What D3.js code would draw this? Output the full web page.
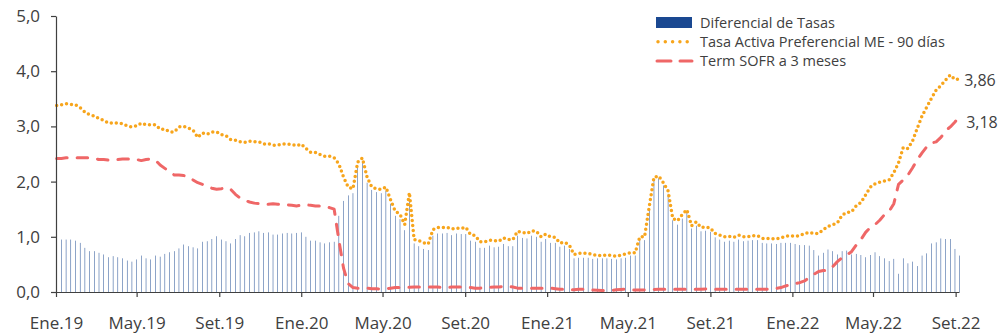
<!DOCTYPE html>
<html lang="es">
<head>
<meta charset="utf-8">
<title>Diferencial de Tasas</title>
<script src="https://cdn.jsdelivr.net/npm/d3@7"></script>
<style>
  html, body { margin: 0; padding: 0; background: #ffffff; }
  svg { display: block; }
  text { font-family: "Open Sans", "Noto Sans", sans-serif; fill: #404040; }
</style>
</head>
<body>
<svg id="chart" width="998" height="334"></svg>
<script>
// Weekly observations, starting Wednesday 2 Jan 2019
const startDate = "2019-01-02";

// Tasa Activa Preferencial ME - 90 días (%)
const tasaActiva = [
  3.38, 3.39, 3.41, 3.40, 3.39, 3.34, 3.26, 3.21, 3.19, 3.14, 3.11, 3.06, 3.06, 3.06, 3.05, 3.01,
  2.99, 3.01, 3.06, 3.03, 3.03, 3.03, 2.95, 2.95, 2.90, 2.90, 2.99, 3.00, 2.97, 2.93, 2.80, 2.88,
  2.86, 2.90, 2.90, 2.85, 2.83, 2.76, 2.75, 2.72, 2.71, 2.73, 2.72, 2.72, 2.68, 2.69, 2.66, 2.66,
  2.68, 2.68, 2.67, 2.65, 2.68, 2.60, 2.53, 2.53, 2.49, 2.46, 2.46, 2.43, 2.32, 2.08, 1.90, 1.87,
  2.35, 2.43, 2.08, 1.90, 1.87, 1.86, 1.90, 1.67, 1.46, 1.41, 1.22, 1.80, 0.95, 0.93, 0.89, 0.87,
  1.13, 1.17, 1.17, 1.17, 1.14, 1.16, 1.15, 1.17, 1.04, 1.02, 0.91, 0.91, 0.94, 0.93, 0.92, 0.98,
  0.95, 0.95, 1.10, 1.08, 1.06, 1.11, 1.10, 1.00, 1.05, 1.00, 0.99, 0.89, 0.90, 0.85, 0.68, 0.70,
  0.70, 0.70, 0.68, 0.66, 0.66, 0.67, 0.66, 0.65, 0.67, 0.69, 0.71, 0.71, 1.00, 1.00, 1.55, 2.08,
  2.10, 1.98, 1.83, 1.33, 1.29, 1.40, 1.49, 1.20, 1.27, 1.17, 1.18, 1.16, 1.06, 1.03, 1.00, 1.01,
  0.99, 1.03, 1.00, 1.00, 1.02, 1.02, 0.97, 0.97, 0.97, 0.96, 0.98, 1.01, 1.02, 1.01, 1.02, 1.06,
  1.08, 1.06, 1.06, 1.13, 1.19, 1.22, 1.25, 1.39, 1.44, 1.45, 1.56, 1.62, 1.76, 1.90, 1.96, 1.99,
  2.01, 2.03, 2.16, 2.34, 2.62, 2.60, 2.74, 2.97, 3.19, 3.35, 3.51, 3.66, 3.74, 3.84, 3.93, 3.85,
  3.86
];

// Term SOFR a 3 meses (%)
const termSofr = [
  2.42, 2.42, 2.43, 2.43, 2.43, 2.43, 2.43, 2.43, 2.42, 2.40, 2.40, 2.39, 2.40, 2.40, 2.41, 2.41,
  2.40, 2.40, 2.38, 2.40, 2.41, 2.39, 2.30, 2.24, 2.18, 2.12, 2.12, 2.11, 2.09, 2.03, 1.98, 1.95,
  1.91, 1.88, 1.86, 1.87, 1.89, 1.86, 1.77, 1.70, 1.66, 1.63, 1.61, 1.60, 1.59, 1.59, 1.60, 1.59,
  1.58, 1.58, 1.57, 1.56, 1.57, 1.58, 1.57, 1.56, 1.56, 1.55, 1.53, 1.50, 0.94, 0.43, 0.15, 0.08,
  0.07, 0.07, 0.07, 0.06, 0.06, 0.05, 0.06, 0.07, 0.08, 0.08, 0.085, 0.085, 0.09, 0.09, 0.09, 0.09,
  0.09, 0.09, 0.08, 0.08, 0.09, 0.09, 0.09, 0.085, 0.08, 0.07, 0.07, 0.08, 0.085, 0.09, 0.09, 0.10,
  0.10, 0.09, 0.07, 0.07, 0.07, 0.07, 0.07, 0.07, 0.07, 0.07, 0.06, 0.05, 0.05, 0.04, 0.04, 0.05,
  0.05, 0.04, 0.035, 0.03, 0.025, 0.025, 0.03, 0.04, 0.045, 0.05, 0.04, 0.035, 0.035, 0.036, 0.04, 0.045,
  0.05, 0.05, 0.05, 0.05, 0.05, 0.05, 0.05, 0.05, 0.05, 0.05, 0.055, 0.06, 0.05, 0.05, 0.05, 0.05,
  0.05, 0.05, 0.05, 0.05, 0.05, 0.05, 0.05, 0.05, 0.06, 0.065, 0.08, 0.11, 0.13, 0.15, 0.17, 0.20,
  0.26, 0.32, 0.37, 0.39, 0.39, 0.46, 0.55, 0.62, 0.67, 0.73, 0.85, 0.95, 1.08, 1.17, 1.22, 1.30,
  1.40, 1.46, 1.60, 1.95, 2.03, 2.12, 2.25, 2.40, 2.52, 2.63, 2.70, 2.72, 2.80, 2.92, 2.99, 3.08,
  3.18
];

// Diferencial de Tasas (puntos porcentuales)
const diferencial = [
  0.95, 0.95, 0.95, 0.95, 0.93, 0.89, 0.80, 0.74, 0.74, 0.71, 0.68, 0.63, 0.65, 0.63, 0.61, 0.57,
  0.55, 0.59, 0.66, 0.61, 0.59, 0.66, 0.64, 0.69, 0.72, 0.74, 0.79, 0.86, 0.83, 0.81, 0.79, 0.91,
  0.92, 0.96, 1.01, 0.95, 0.92, 0.88, 0.96, 1.03, 1.01, 1.07, 1.08, 1.10, 1.07, 1.08, 1.04, 1.04,
  1.06, 1.07, 1.06, 1.07, 1.08, 1.00, 0.93, 0.93, 0.90, 0.88, 0.90, 0.91, 1.38, 1.65, 1.75, 1.79,
  2.28, 2.37, 1.98, 1.85, 1.81, 1.79, 1.83, 1.60, 1.38, 1.32, 1.12, 1.67, 0.88, 0.83, 0.78, 0.76,
  1.02, 1.06, 1.06, 1.07, 1.03, 1.06, 1.05, 1.05, 0.93, 0.91, 0.80, 0.80, 0.84, 0.81, 0.82, 0.87,
  0.83, 0.83, 1.02, 0.98, 0.97, 1.02, 1.00, 0.91, 0.96, 0.89, 0.89, 0.82, 0.84, 0.78, 0.61, 0.62,
  0.62, 0.62, 0.60, 0.61, 0.61, 0.61, 0.60, 0.59, 0.61, 0.62, 0.66, 0.66, 0.94, 0.94, 1.50, 2.04,
  2.06, 1.93, 1.78, 1.30, 1.22, 1.33, 1.43, 1.15, 1.20, 1.10, 1.11, 1.09, 0.99, 0.95, 0.91, 0.93,
  0.91, 0.95, 0.92, 0.93, 0.94, 0.94, 0.89, 0.88, 0.88, 0.87, 0.89, 0.89, 0.89, 0.87, 0.85, 0.85,
  0.84, 0.76, 0.66, 0.71, 0.77, 0.74, 0.68, 0.74, 0.75, 0.68, 0.69, 0.67, 0.63, 0.67, 0.72, 0.65,
  0.61, 0.56, 0.60, 0.33, 0.61, 0.52, 0.55, 0.47, 0.66, 0.70, 0.88, 0.90, 0.97, 0.96, 0.96, 0.78,
  0.66
];

// Axis ticks
const xTickDates = ["2019-01-01", "2019-05-01", "2019-09-01", "2020-01-01", "2020-05-01", "2020-09-01",
                    "2021-01-01", "2021-05-01", "2021-09-01", "2022-01-01", "2022-05-01", "2022-09-01"];
const xTickLabels = ["Ene.19", "May.19", "Set.19", "Ene.20", "May.20", "Set.20",
                     "Ene.21", "May.21", "Set.21", "Ene.22", "May.22", "Set.22"];
const yTickValues = [0, 1, 2, 3, 4, 5];
const yTickLabels = ["0,0", "1,0", "2,0", "3,0", "4,0", "5,0"];

const seriesNames = ["Diferencial de Tasas", "Tasa Activa Preferencial ME - 90 días", "Term SOFR a 3 meses"];

// ---------------------------------------------------------------------------
const colors = { bar: "#1a4891", activa: "#f7a51c", sofr: "#ef6767", axis: "#404040" };

const parse = d3.utcParse("%Y-%m-%d");
const start = parse(startDate);
const dates = tasaActiva.map((_, i) => d3.utcDay.offset(start, 7 * i));
const rows = dates.map((d, i) => ({ date: d, activa: tasaActiva[i], sofr: termSofr[i], dif: diferencial[i] }));

const svg = d3.select("#chart");

const x = d3.scaleUtc()
  .domain([parse("2019-01-01"), parse("2022-09-06")])
  .range([56, 959]);
const y = d3.scaleLinear().domain([0, 5]).range([292, 16]);

// Bars: thin weekly columns
svg.append("g")
  .selectAll("rect")
  .data(rows)
  .join("rect")
  .attr("x", d => x(d.date) - 0.25)
  .attr("width", 0.5)
  .attr("y", d => y(d.dif))
  .attr("height", d => y(0) - y(d.dif))
  .attr("fill", colors.bar);

// Term SOFR dashed line
svg.append("path")
  .datum(rows)
  .attr("fill", "none")
  .attr("stroke", colors.sofr)
  .attr("stroke-width", 3)
  .attr("stroke-linecap", "round")
  .attr("stroke-linejoin", "round")
  .attr("stroke-dasharray", "10.5 10")
  .attr("d", d3.line().x(d => x(d.date)).y(d => y(d.sofr)));

// Tasa Activa dotted line
svg.append("path")
  .datum(rows)
  .attr("fill", "none")
  .attr("stroke", colors.activa)
  .attr("stroke-width", 3.5)
  .attr("stroke-linecap", "round")
  .attr("stroke-linejoin", "round")
  .attr("stroke-dasharray", "0 5")
  .attr("d", d3.line().x(d => x(d.date)).y(d => y(d.activa)));

// Axes
const xAxis = d3.axisBottom(x)
  .tickValues(xTickDates.map(parse))
  .tickFormat((d, i) => xTickLabels[i])
  .tickSize(5)
  .tickSizeOuter(0)
  .tickPadding(20);
const gx = svg.append("g").attr("transform", `translate(0,${y(0)})`).call(xAxis);

const yAxis = d3.axisLeft(y)
  .tickValues(yTickValues)
  .tickFormat((d, i) => yTickLabels[i])
  .tickSize(5)
  .tickSizeOuter(0)
  .tickPadding(11);
const gy = svg.append("g").attr("transform", `translate(${x.range()[0]},0)`).call(yAxis);

[gx, gy].forEach(g => {
  g.select(".domain").attr("stroke", colors.axis).attr("stroke-width", 1.2);
  g.selectAll(".tick line").attr("stroke", colors.axis).attr("stroke-width", 1.2);
  g.selectAll(".tick text")
    .attr("font-family", "'Open Sans', 'Noto Sans', sans-serif")
    .attr("font-size", 17)
    .attr("fill", "#404040");
});

// End-of-series value labels
const last = rows[rows.length - 1];
const fmt = v => d3.format(".2f")(v).replace(".", ",");
svg.append("text")
  .attr("x", x(last.date) + 4.5)
  .attr("y", y(last.activa) + 7.5)
  .attr("font-size", 16)
  .text(fmt(last.activa));
svg.append("text")
  .attr("x", x(last.date) + 6.5)
  .attr("y", y(last.sofr) + 11.5)
  .attr("font-size", 16)
  .text(fmt(last.sofr));

// Legend
const legend = svg.append("g").attr("transform", "translate(656,0)");
legend.append("rect").attr("x", 0).attr("y", 17).attr("width", 36).attr("height", 11).attr("fill", colors.bar);
legend.append("line")
  .attr("x1", 2).attr("x2", 37).attr("y1", 41.7).attr("y2", 41.7)
  .attr("stroke", colors.activa).attr("stroke-width", 3.5)
  .attr("stroke-linecap", "round").attr("stroke-dasharray", "0 7.3");
legend.append("line")
  .attr("x1", 1).attr("x2", 36).attr("y1", 61).attr("y2", 61)
  .attr("stroke", colors.sofr).attr("stroke-width", 3)
  .attr("stroke-linecap", "round").attr("stroke-dasharray", "14 9");
legend.selectAll("text.leg")
  .data(seriesNames)
  .join("text")
  .attr("class", "leg")
  .attr("x", 44)
  .attr("y", (d, i) => 27.5 + i * 19.3)
  .attr("font-size", 14.5)
  .text(d => d);
</script>
</body>
</html>
